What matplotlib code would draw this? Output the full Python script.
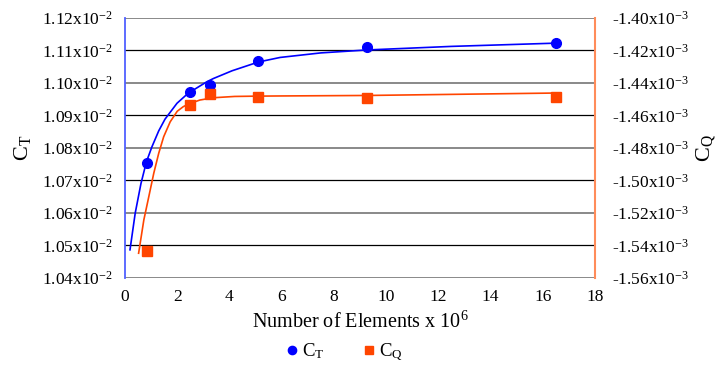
import matplotlib
matplotlib.use("Agg")
import matplotlib.pyplot as plt

plt.rcParams['font.family'] = ['Liberation Serif', 'DejaVu Serif']
plt.rcParams['mathtext.fontset'] = 'custom'
plt.rcParams['mathtext.rm'] = 'Liberation Serif'
plt.rcParams['mathtext.it'] = 'Liberation Serif:italic'

# data points (x in millions of elements)
elements = [0.83, 2.49, 3.27, 5.11, 9.26, 16.50]
ct = [1.0754, 1.0972, 1.0992, 1.1067, 1.1109, 1.1122]        # x10^-2
cq = [-1.5435, -1.4539, -1.4468, -1.4486, -1.4492, -1.4488]  # x10^-3

# trend lines
ct_fit_x = [0.19, 0.39, 0.61, 0.82, 1.03, 1.29, 1.53, 1.99, 2.42, 3.13, 3.38, 4.10, 5.11, 5.94,
            7.50, 9.26, 12.5, 16.50]
ct_fit_y = [1.0486, 1.0599, 1.0690, 1.0757, 1.0803, 1.0852, 1.0888, 1.0937, 1.0968, 1.1003,
            1.1013, 1.1037, 1.1064, 1.1078, 1.1092, 1.1101, 1.1112, 1.1122]
cq_fit_x = [0.52, 0.72, 0.91, 1.10, 1.29, 1.48, 1.73, 2.00, 2.23, 2.44, 2.87, 3.38, 4.20, 5.11,
            5.94, 9.26, 16.50]
cq_fit_y = [-1.5449, -1.5244, -1.5101, -1.4957, -1.4834, -1.4732, -1.4640, -1.4575, -1.4547,
            -1.4530, -1.4506, -1.4492, -1.4484, -1.4482, -1.4481, -1.4478, -1.4463]

left_ticks = [1.04, 1.05, 1.06, 1.07, 1.08, 1.09, 1.10, 1.11, 1.12]
right_ticks = [-1.56, -1.54, -1.52, -1.50, -1.48, -1.46, -1.44, -1.42, -1.40]
x_ticks = [0, 2, 4, 6, 8, 10, 12, 14, 16, 18]

blue = '#0000FF'
orange = '#FF4500'

fig = plt.figure(figsize=(7.19, 3.67), dpi=100)
ax = fig.add_axes([0.1739, 0.2431, 0.6536, 0.7084])
ax2 = ax.twinx()

ax.plot(ct_fit_x, ct_fit_y, color=blue, lw=1.2, zorder=3)
ax.plot(elements, ct, 'o', color=blue, ms=7, zorder=4, label=r'C$_\mathrm{T}$')
ax2.plot(cq_fit_x, cq_fit_y, color=orange, lw=1.2, zorder=3)
ax2.plot(elements, cq, 's', color=orange, ms=6.5, zorder=4, label=r'C$_\mathrm{Q}$')

ax.set_xlim(0, 18)
ax.set_ylim(1.04, 1.12)
ax2.set_ylim(-1.56, -1.40)
ax.set_xticks(x_ticks)
ax.set_yticks(left_ticks)
ax2.set_yticks(right_ticks)
ax.set_yticklabels(['%.2fx10$^{-2}$' % v for v in left_ticks])
ax2.set_yticklabels(['%.2fx10$^{-3}$' % v for v in right_ticks])
ax.tick_params(axis='y', length=0, labelsize=12.5, pad=9)
ax.tick_params(axis='x', length=0, labelsize=12.5, pad=8)
ax2.tick_params(length=0, labelsize=12.5, pad=12)

ax.grid(axis='y', color='black', lw=0.9)
for i, gl in enumerate(ax.yaxis.get_gridlines()):
    if i % 2 == 0:
        gl.set_color('#808080')
        gl.set_linewidth(1.3)
ax.set_axisbelow(True)

for a in (ax, ax2):
    for side in ('top', 'left', 'right', 'bottom'):
        a.spines[side].set_visible(False)
ax2.spines['left'].set_visible(True)
ax2.spines['left'].set_color('#5060FF')
ax2.spines['left'].set_linewidth(1.3)
ax2.spines['right'].set_visible(True)
ax2.spines['right'].set_color('#FF8C5A')
ax2.spines['right'].set_linewidth(1.5)

ax.set_xlabel('Number of Elements x 10$^{6}$', fontsize=14.5, labelpad=5)
ax.set_ylabel(r'C$_\mathrm{T}$', fontsize=16, labelpad=6)
ax2.set_ylabel(r'C$_\mathrm{Q}$', fontsize=16)
ax2.yaxis.set_label_coords(1.21, 0.5)

h1, l1 = ax.get_legend_handles_labels()
h2, l2 = ax2.get_legend_handles_labels()
fig.legend(h1 + h2, l1 + l2, loc='lower center', bbox_to_anchor=(0.478, -0.035), ncol=2,
           frameon=False, fontsize=13.5, handletextpad=0.1, columnspacing=2.0,
           handlelength=0.8, markerscale=0.85)

plt.savefig('out.png', dpi=100)
